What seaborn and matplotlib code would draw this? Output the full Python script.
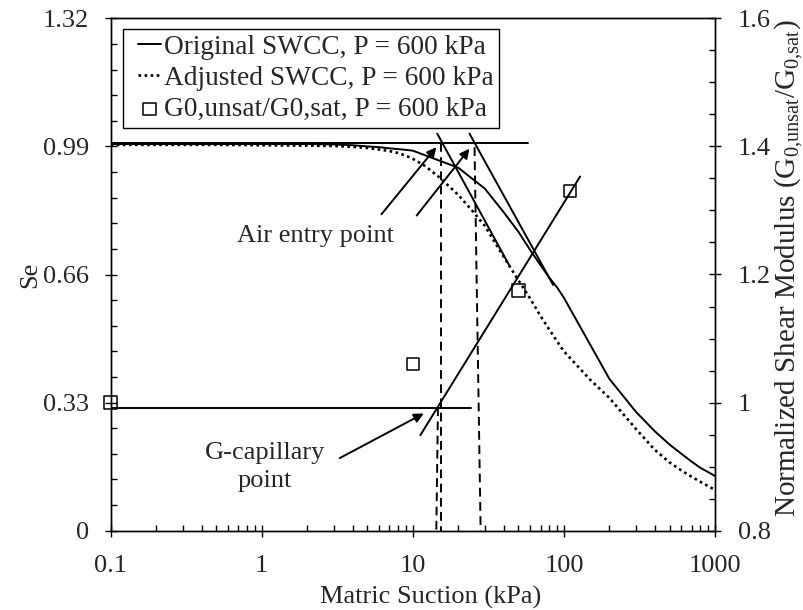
import numpy as np
import pandas as pd
import matplotlib
matplotlib.use("Agg")
import matplotlib.pyplot as plt
from matplotlib.ticker import FixedLocator, LogLocator, NullFormatter, FixedFormatter
from matplotlib.legend_handler import HandlerLine2D, HandlerPathCollection
from matplotlib.lines import Line2D
from matplotlib.collections import PathCollection
import seaborn as sns

# ---- data -------------------------------------------------------------
suction_orig = [0.1, 0.2, 0.5, 1, 2, 3, 4, 5, 6, 7, 8, 9, 10, 20, 30, 40, 50,
                60, 70, 80, 90, 100, 200, 300, 400, 500, 600, 700, 800, 900, 1000]
se_orig = [0.996, 0.996, 0.996, 0.996, 0.996, 0.995, 0.993, 0.99, 0.988, 0.985,
           0.983, 0.981, 0.979, 0.935, 0.881, 0.82, 0.77, 0.722, 0.684, 0.652,
           0.627, 0.60, 0.391, 0.306, 0.256, 0.222, 0.198, 0.178, 0.162, 0.151, 0.141]

suction_adj = [0.1, 0.5, 1, 2, 3, 4, 5, 6, 7, 8, 9, 10, 12, 15, 20, 25, 30, 40, 50,
               60, 70, 80, 90, 100, 150, 200, 300, 400, 500, 600, 700, 800, 900, 1000]
se_adj = [0.994, 0.994, 0.993, 0.992, 0.991, 0.989, 0.986, 0.982, 0.978, 0.973,
          0.966, 0.958, 0.94, 0.91, 0.865, 0.822, 0.785, 0.705, 0.645, 0.597,
          0.553, 0.518, 0.488, 0.462, 0.388, 0.342, 0.262, 0.208, 0.176, 0.155,
          0.139, 0.126, 0.115, 0.105]

g_suction = [0.1, 10, 50, 110]
g_ratio = [1.0, 1.06, 1.175, 1.33]

# construction lines (Se axis)
sat_line_x, sat_line_y = [0.1, 57.7], [1.0, 1.0]
tangent_orig_x, tangent_orig_y = [23.7, 84.9], [1.023, 0.633]
tangent_adj_x, tangent_adj_y = [14.5, 43.4], [1.023, 0.684]
aep_adj_x, aep_adj_y = [15.4, 15.4], [1.0, 0.0]
aep_orig_x, aep_orig_y = [25.6, 28.1], [0.988, 0.0]
gcap_drop_x, gcap_drop_y = [14.66, 14.3], [0.318, 0.0]

# construction lines (shear modulus axis)
g_base_x, g_base_y = [0.1, 24.4], [0.992, 0.992]
g_trend_x, g_trend_y = [11.2, 128], [0.949, 1.353]

x_ticks = [0.1, 1, 10, 100, 1000]
x_labels = ["0.1", "1", "10", "100", "1000"]
se_ticks = [0, 0.33, 0.66, 0.99, 1.32]
se_labels = ["0", "0.33", "0.66", "0.99", "1.32"]
g_ticks = [0.8, 1.0, 1.2, 1.4, 1.6]
g_labels = ["0.8", "1", "1.2", "1.4", "1.6"]

# ---- style ------------------------------------------------------------
sns.set_theme(style="ticks")
plt.rcParams["font.family"] = ["Liberation Serif", "DejaVu Serif"]
plt.rcParams["mathtext.default"] = "regular"
plt.rcParams["axes.linewidth"] = 1.0
FS = 19

fig = plt.figure(figsize=(8.04, 6.10), dpi=100)
ax = fig.add_axes([0.1377, 0.13, 0.7516, 0.84])
ax2 = ax.twinx()

LW = 1.4
ax.set_xscale("log")

sns.lineplot(x=suction_orig, y=se_orig, ax=ax, color="black", lw=LW,
             label="Original SWCC, P = 600 kPa", legend=False)
sns.lineplot(x=suction_adj, y=se_adj, ax=ax, color="black", lw=1.9,
             linestyle=(0, (1.0, 1.3)), label="Adjusted SWCC, P = 600 kPa",
             legend=False, dash_capstyle="butt")

for xs, ys in [(sat_line_x, sat_line_y), (tangent_orig_x, tangent_orig_y),
               (tangent_adj_x, tangent_adj_y)]:
    ax.plot(xs, ys, color="black", lw=LW)
for xs, ys in [(aep_adj_x, aep_adj_y), (aep_orig_x, aep_orig_y),
               (gcap_drop_x, gcap_drop_y)]:
    ax.plot(xs, ys, color="black", lw=LW, linestyle=(0, (4.5, 2.8)))

ax2.plot(g_base_x, g_base_y, color="black", lw=LW)
ax2.plot(g_trend_x, g_trend_y, color="black", lw=LW)
sns.scatterplot(x=g_suction, y=g_ratio, ax=ax2, marker="s", s=80,
                facecolor="none", edgecolor="black", linewidth=1.1,
                label="G0,unsat/G0,sat, P = 600 kPa", legend=False, zorder=5,
                clip_on=False)

# annotations
arrow = dict(arrowstyle="-|>", color="black", lw=1.4, mutation_scale=14,
             shrinkA=0, shrinkB=0)
ax.annotate("", xy=(14.3, 0.988), xytext=(6.19, 0.815), arrowprops=arrow)
ax.annotate("", xy=(23.7, 0.984), xytext=(10.6, 0.812), arrowprops=arrow)
ax.annotate("", xy=(11.8, 0.302), xytext=(3.28, 0.187), arrowprops=arrow)
ax.text(2.27, 0.76, "Air entry point", fontsize=FS, ha="center", va="center")
ax.text(1.05, 0.164, "G-capillary\npoint", fontsize=FS, ha="center",
        va="center", linespacing=1.35)

# ---- axes -------------------------------------------------------------
ax.set_xlim(0.1, 1000)
ax.set_ylim(0, 1.32)
ax2.set_ylim(0.8, 1.6)

ax.xaxis.set_major_locator(FixedLocator(x_ticks))
ax.xaxis.set_major_formatter(FixedFormatter(x_labels))
ax.xaxis.set_minor_locator(LogLocator(base=10, subs=np.arange(2, 10)))
ax.xaxis.set_minor_formatter(NullFormatter())
ax.yaxis.set_major_locator(FixedLocator(se_ticks))
ax.yaxis.set_major_formatter(FixedFormatter(se_labels))
ax.yaxis.set_minor_locator(FixedLocator(np.arange(0, 1.33, 0.066)))
ax2.yaxis.set_major_locator(FixedLocator(g_ticks))
ax2.yaxis.set_major_formatter(FixedFormatter(g_labels))
ax2.yaxis.set_minor_locator(FixedLocator(np.arange(0.8, 1.61, 0.05)))

for a in (ax, ax2):
    a.tick_params(which="major", direction="inout", length=9.3, width=1.0,
                  labelsize=FS, color="black")
    a.tick_params(which="minor", direction="in", length=4.3, width=1.0,
                  color="black")
    for sp in a.spines.values():
        sp.set_visible(True)
        sp.set_color("black")
        sp.set_linewidth(1.0)
ax.tick_params(axis="x", which="major", pad=13)
ax.tick_params(axis="y", which="major", pad=11)
ax2.tick_params(axis="y", which="major", pad=12)
ax.tick_params(axis="y", which="both", left=True, right=False)
ax.tick_params(axis="x", which="both", top=False, bottom=True)
ax2.tick_params(axis="y", which="both", right=True, left=False)
ax.grid(False)
ax2.grid(False)

ax.set_xlabel("Matric Suction (kPa)", fontsize=FS, va="center")
ax.xaxis.set_label_coords(0.530, -0.1294)
ax.set_ylabel("Se", fontsize=FS, va="center")
ax.yaxis.set_label_coords(-0.133, 0.5)
ax2.set_ylabel("Normalized Shear Modulus (G$_{0{,}unsat}$/G$_{0{,}sat}$)",
               fontsize=21, va="center")
ax2.yaxis.set_label_coords(1.1224, 0.5127)

# legend drawn from the artists on both axes; handles indented inside frame
h1, l1 = ax.get_legend_handles_labels()
h2, l2 = ax2.get_legend_handles_labels()
handler_map = {Line2D: HandlerLine2D(xpad=0.35),
               PathCollection: HandlerPathCollection(xpad=0.35)}
leg = ax2.legend(h1 + h2, l1 + l2, loc="upper left",
                 bbox_to_anchor=(0.02, 0.979), fontsize=19.7, frameon=True,
                 fancybox=False, edgecolor="black", framealpha=1,
                 borderpad=0.2, labelspacing=0.22, handlelength=1.2,
                 handletextpad=0.1, borderaxespad=0, scatterpoints=1,
                 handler_map=handler_map)
leg.get_frame().set_linewidth(1.0)

fig.savefig("out.png", dpi=100)
